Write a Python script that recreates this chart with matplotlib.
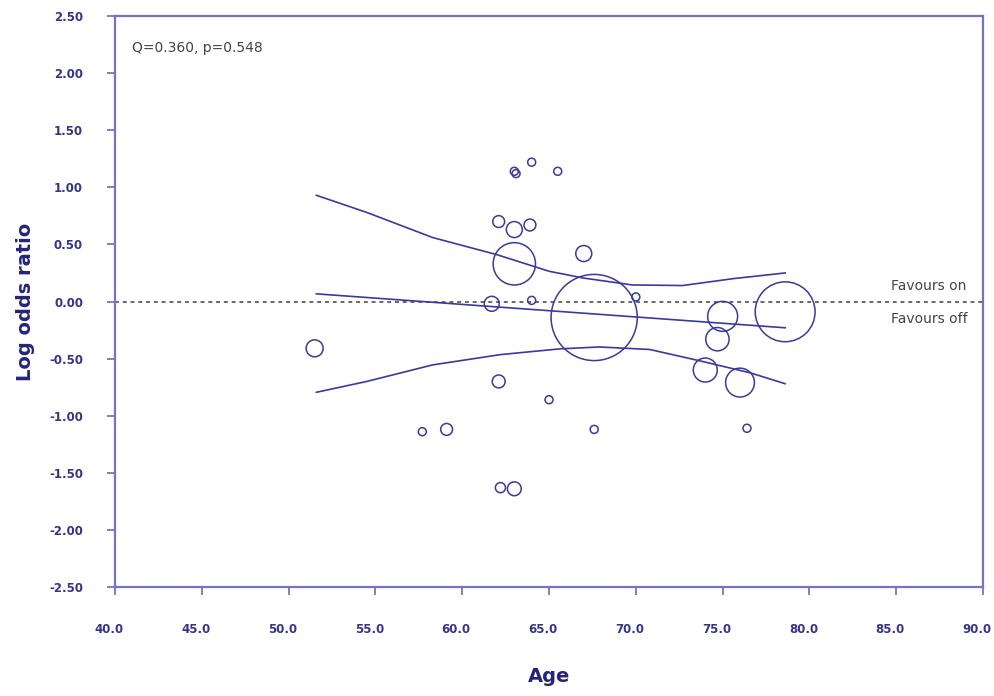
import matplotlib
matplotlib.use("Agg")
import matplotlib.pyplot as plt
import matplotlib.transforms as mtransforms
import numpy as np

# studies: mean age, log odds ratio, relative weight (bubble area)
age = [51.5, 57.7, 59.1, 61.7, 62.1, 62.1, 62.2, 63.0, 63.0, 63.0, 63.0,
       63.1, 63.9, 64.0, 64.0, 65.0, 65.5, 67.0, 67.6, 67.6, 70.0, 74.0,
       74.7, 75.0, 76.0, 76.4, 78.6]
log_or = [-0.41, -1.14, -1.12, -0.02, 0.70, -0.70, -1.63, 0.63, 0.33, -1.64,
          1.14, 1.12, 0.67, 1.22, 0.01, -0.86, 1.14, 0.42, -0.14, -1.12,
          0.04, -0.60, -0.33, -0.13, -0.71, -1.11, -0.09]
weight = [4.5, 1.0, 2.2, 3.5, 2.2, 2.6, 1.6, 4.0, 28, 3.0,
          1.0, 1.0, 2.2, 1.0, 1.0, 1.0, 1.0, 4.0, 116, 1.0,
          1.0, 9.0, 8.5, 14, 13, 1.0, 56]

# regression line and confidence band
fit_x = [51.6, 54.5, 58.3, 62.0, 65.0, 67.0, 69.8, 72.7, 75.6, 78.6]
fit_upper = [0.93, 0.78, 0.56, 0.41, 0.265, 0.205, 0.145, 0.14, 0.20, 0.25]
fit_mid_x = [51.6, 78.6]
fit_mid = [0.067, -0.23]
low_x = [51.6, 54.5, 58.3, 62.2, 65.6, 67.9, 70.8, 73.7, 76.6, 78.6]
fit_lower = [-0.795, -0.70, -0.555, -0.465, -0.415, -0.398, -0.42, -0.52, -0.625, -0.72]

navy = '#3a3a9c'
spine_col = '#7474c4'
tick_col = '#34348c'

fig = plt.figure(figsize=(9.94, 6.96), dpi=100)
ax = fig.add_axes([0.1157, 0.1566, 0.8733, 0.8204])

ax.axhline(0, color='#666666', lw=1.4, ls=(0, (2, 2)), zorder=1)

# bubble radius 4 px for weight 1
s = [(2 * 4 * 0.72) ** 2 * w for w in weight]
ax.scatter(age, log_or, s=s, facecolors='none', edgecolors=navy, linewidths=1.1, zorder=3)

ax.plot(fit_x, fit_upper, color=navy, lw=1.2, zorder=2)
ax.plot(fit_mid_x, fit_mid, color=navy, lw=1.2, zorder=2)
ax.plot(low_x, fit_lower, color=navy, lw=1.2, zorder=2)

ax.text(41.0, 2.22, 'Q=0.360, p=0.548', fontsize=10, color='#444444', va='center')
ax.text(84.7, 0.14, 'Favours on', fontsize=10, color='#444444', va='center')
ax.text(84.7, -0.15, 'Favours off', fontsize=10, color='#444444', va='center')

ax.set_xlim(40, 90)
ax.set_ylim(-2.5, 2.5)
ax.set_xticks(np.arange(40, 90.1, 5))
ax.set_xticklabels([f'{v:.1f}' for v in np.arange(40, 90.1, 5)])
ax.set_yticks(np.arange(-2.5, 2.51, 0.5))
ax.set_yticklabels([f'{v:.2f}' for v in np.arange(-2.5, 2.51, 0.5)])

for sp in ax.spines.values():
    sp.set_color(spine_col)
    sp.set_linewidth(1.6)
ax.tick_params(axis='both', colors=spine_col, width=1.3, length=6, labelcolor=tick_col,
               labelsize=8.5)
ax.tick_params(axis='y', pad=17)
ax.tick_params(axis='x', pad=20)
shift = mtransforms.ScaledTranslation(-6 / 100, 0, fig.dpi_scale_trans)
for lab in ax.get_xticklabels():
    lab.set_fontweight('bold')
    lab.set_transform(lab.get_transform() + shift)
for lab in ax.get_yticklabels():
    lab.set_fontweight('bold')

ax.set_xlabel('Age', fontsize=14, fontweight='bold', color='#24247c', labelpad=22)
ax.set_ylabel('Log odds ratio', fontsize=14, fontweight='bold', color='#24247c', labelpad=10)

fig.savefig('out.png', dpi=100)
